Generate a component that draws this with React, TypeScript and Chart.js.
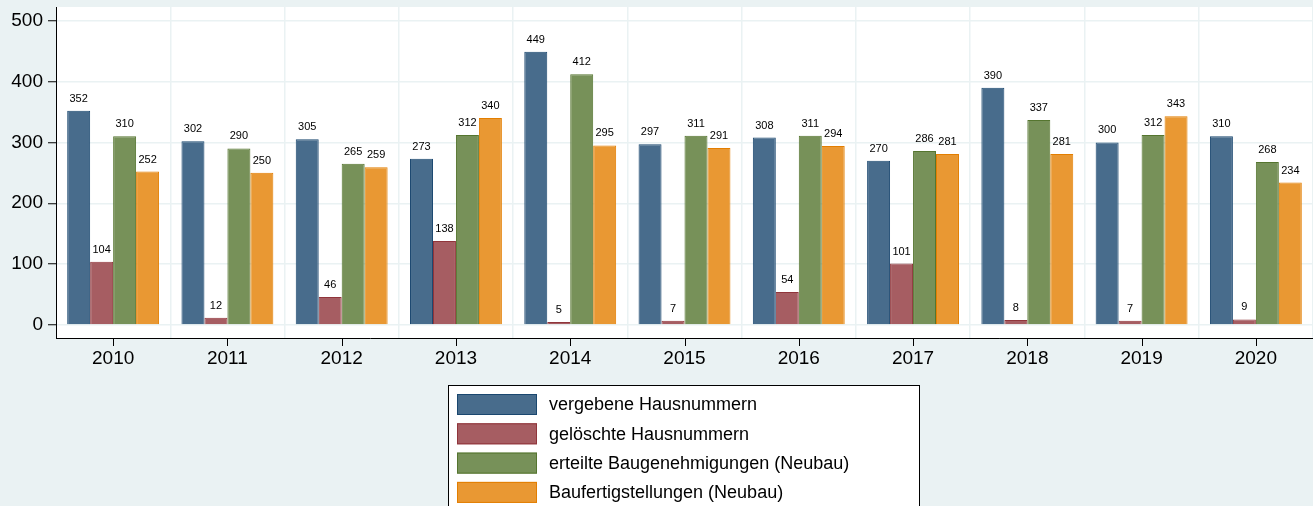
import React, { useEffect, useRef } from 'react';
import { Chart, registerables } from 'chart.js';

Chart.register(...registerables);

const years = ['2010', '2011', '2012', '2013', '2014', '2015', '2016', '2017', '2018', '2019', '2020'];
const vergebene = [352, 302, 305, 273, 449, 297, 308, 270, 390, 300, 310];
const geloeschte = [104, 12, 46, 138, 5, 7, 54, 101, 8, 7, 9];
const erteilte = [310, 290, 265, 312, 412, 311, 311, 286, 337, 312, 268];
const fertig = [252, 250, 259, 340, 295, 291, 294, 281, 281, 343, 234];
const yTicks = [0, 100, 200, 300, 400, 500];
const seriesLabels = [
  'vergebene Hausnummern',
  'gelöschte Hausnummern',
  'erteilte Baugenehmigungen (Neubau)',
  'Baufertigstellungen (Neubau)',
];
const fills = ['#486c8c', '#a65d62', '#779159', '#e99833'];
const borders = ['#1a476f', '#90353b', '#55752f', '#e37e00'];

const FONT = '"Liberation Sans", Arial, Helvetica, sans-serif';
const BG = '#eaf2f3';

const plotBg = {
  id: 'plotBg',
  beforeDraw(chart: any) {
    const { ctx, chartArea: a } = chart;
    ctx.save();
    ctx.fillStyle = '#ffffff';
    ctx.fillRect(a.left, a.top, a.right - a.left, a.bottom - a.top);
    ctx.restore();
  },
};

const valueLabels = {
  id: 'valueLabels',
  afterDatasetsDraw(chart: any) {
    const { ctx } = chart;
    ctx.save();
    ctx.font = `11px ${FONT}`;
    ctx.fillStyle = '#000';
    ctx.textAlign = 'center';
    ctx.textBaseline = 'alphabetic';
    chart.data.datasets.forEach((ds: any, i: number) => {
      const meta = chart.getDatasetMeta(i);
      meta.data.forEach((el: any, j: number) => {
        ctx.fillText(String(ds.data[j]), el.x, el.y - 9);
      });
    });
    ctx.restore();
  },
};

const xTickMarks = {
  id: 'xTickMarks',
  afterDraw(chart: any) {
    const { ctx, chartArea } = chart;
    const xs = chart.scales.x;
    ctx.save();
    ctx.strokeStyle = '#000';
    ctx.lineWidth = 1;
    ctx.beginPath();
    chart.data.labels.forEach((_: any, i: number) => {
      const px = Math.round(xs.getPixelForValue(i)) + 0.5;
      ctx.moveTo(px, chartArea.bottom);
      ctx.lineTo(px, chartArea.bottom + 8);
    });
    ctx.stroke();
    ctx.restore();
  },
};

const boxLegend = {
  id: 'boxLegend',
  afterDraw(chart: any) {
    const { ctx } = chart;
    const left = 448.5;
    const top = 385.5;
    const w = 471;
    const h = 130;
    ctx.save();
    ctx.fillStyle = '#ffffff';
    ctx.fillRect(left, top, w, h);
    ctx.strokeStyle = '#000';
    ctx.lineWidth = 1;
    ctx.strokeRect(left, top, w, h);
    ctx.font = `18px ${FONT}`;
    ctx.textAlign = 'left';
    ctx.textBaseline = 'middle';
    chart.data.datasets.forEach((ds: any, i: number) => {
      const by = 394 + i * 29.3;
      ctx.fillStyle = ds.backgroundColor;
      ctx.fillRect(457, by, 80, 21);
      ctx.strokeStyle = ds.borderColor;
      ctx.strokeRect(457.5, by + 0.5, 79, 20);
      ctx.fillStyle = '#000';
      ctx.fillText(ds.label, 549, by + 11.5);
    });
    ctx.restore();
  },
};

export default function App() {
  const ref = useRef<HTMLCanvasElement | null>(null);

  useEffect(() => {
    if (!ref.current) return;
    const series = [vergebene, geloeschte, erteilte, fertig];
    const chart = new Chart(ref.current, {
      type: 'bar',
      data: {
        labels: years,
        datasets: series.map((d, i) => ({
          label: seriesLabels[i],
          data: d,
          backgroundColor: fills[i],
          borderColor: borders[i],
          borderWidth: 1,
          categoryPercentage: 0.804,
          barPercentage: 1,
        })),
      },
      options: {
        animation: false,
        responsive: false,
        layout: { padding: { top: 7, right: 0, left: 0, bottom: 0 } },
        plugins: {
          legend: { display: false },
          title: { display: false },
          tooltip: { enabled: false },
        },
        scales: {
          x: {
            grid: {
              offset: true,
              color: BG,
              lineWidth: 1.5,
              tickLength: 8,
              tickColor: 'rgba(0,0,0,0)',
            },
            border: { color: '#000', width: 1 },
            ticks: {
              font: { size: 19, family: FONT },
              color: '#000',
              padding: 1,
              maxRotation: 0,
              autoSkip: false,
            },
            afterFit: (s: any) => {
              s.height = 168;
              s.paddingLeft = 0;
              s.paddingRight = 0;
            },
          },
          y: {
            min: -21.4,
            max: 522.5,
            afterBuildTicks: (s: any) => {
              s.ticks = yTicks.map((v) => ({ value: v }));
            },
            afterFit: (s: any) => {
              s.width = 56;
              s.paddingTop = 0;
              s.paddingBottom = 0;
            },
            grid: {
              color: BG,
              lineWidth: 1.5,
              tickColor: '#000',
              tickLength: 8,
              tickWidth: 1,
            },
            border: { color: '#000', width: 1 },
            ticks: {
              font: { size: 19, family: FONT },
              color: '#000',
              padding: 5,
            },
          },
        },
      },
      plugins: [plotBg, valueLabels, xTickMarks, boxLegend],
    } as any);
    return () => chart.destroy();
  }, []);

  return (
    <div
      style={{
        position: 'fixed',
        left: 0,
        top: 0,
        width: 1313,
        height: 506,
        background: BG,
        overflow: 'hidden',
      }}
    >
      <canvas ref={ref} width={1313} height={506} style={{ display: 'block' }} />
    </div>
  );
}
